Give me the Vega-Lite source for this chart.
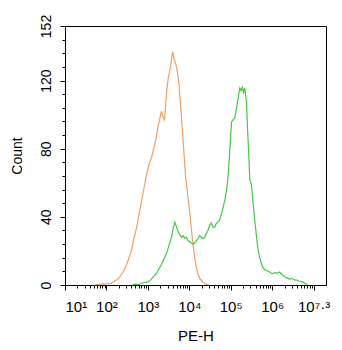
{
  "$schema": "https://vega.github.io/schema/vega-lite/v6.json",
  "autosize": "none",
  "width": 261,
  "height": 259,
  "padding": {"left": 65, "top": 26, "right": 16, "bottom": 65},
  "background": "white",
  "config": {
    "view": {"stroke": "black", "strokeWidth": 1},
    "axis": {"grid": false, "domainColor": "black", "tickColor": "black", "labelColor": "black", "titleColor": "black", "labelFont": "Liberation Sans", "titleFont": "Liberation Sans", "titleFontWeight": "normal", "labelOverlap": false}
  },
  "data": {"values": [
    {"e":1.70,"c":0,"s":"ctrl"},{"e":1.78,"c":0.4,"s":"ctrl"},{"e":1.85,"c":0.2,"s":"ctrl"},{"e":1.92,"c":0.8,"s":"ctrl"},{"e":1.98,"c":0.5,"s":"ctrl"},{"e":2.05,"c":1.0,"s":"ctrl"},{"e":2.10,"c":0.8,"s":"ctrl"},{"e":2.18,"c":2.0,"s":"ctrl"},{"e":2.25,"c":3.0,"s":"ctrl"},{"e":2.32,"c":4.7,"s":"ctrl"},{"e":2.40,"c":7.5,"s":"ctrl"},{"e":2.47,"c":11,"s":"ctrl"},{"e":2.53,"c":15,"s":"ctrl"},{"e":2.60,"c":20,"s":"ctrl"},{"e":2.66,"c":27,"s":"ctrl"},{"e":2.73,"c":34,"s":"ctrl"},{"e":2.80,"c":43,"s":"ctrl"},{"e":2.87,"c":52,"s":"ctrl"},{"e":2.93,"c":60,"s":"ctrl"},{"e":2.98,"c":66,"s":"ctrl"},{"e":3.03,"c":71,"s":"ctrl"},{"e":3.09,"c":75,"s":"ctrl"},{"e":3.14,"c":80,"s":"ctrl"},{"e":3.19,"c":85,"s":"ctrl"},{"e":3.24,"c":92,"s":"ctrl"},{"e":3.29,"c":98,"s":"ctrl"},{"e":3.33,"c":102,"s":"ctrl"},{"e":3.36,"c":99,"s":"ctrl"},{"e":3.40,"c":97,"s":"ctrl"},{"e":3.43,"c":106,"s":"ctrl"},{"e":3.46,"c":115,"s":"ctrl"},{"e":3.49,"c":121,"s":"ctrl"},{"e":3.53,"c":126,"s":"ctrl"},{"e":3.57,"c":132,"s":"ctrl"},{"e":3.60,"c":137,"s":"ctrl"},{"e":3.63,"c":133,"s":"ctrl"},{"e":3.67,"c":130,"s":"ctrl"},{"e":3.71,"c":126,"s":"ctrl"},{"e":3.75,"c":118,"s":"ctrl"},{"e":3.79,"c":105,"s":"ctrl"},{"e":3.83,"c":92,"s":"ctrl"},{"e":3.87,"c":78,"s":"ctrl"},{"e":3.91,"c":64,"s":"ctrl"},{"e":3.95,"c":55,"s":"ctrl"},{"e":3.99,"c":47,"s":"ctrl"},{"e":4.03,"c":38,"s":"ctrl"},{"e":4.07,"c":28,"s":"ctrl"},{"e":4.11,"c":20,"s":"ctrl"},{"e":4.15,"c":13,"s":"ctrl"},{"e":4.20,"c":7,"s":"ctrl"},{"e":4.26,"c":3.5,"s":"ctrl"},{"e":4.33,"c":1.8,"s":"ctrl"},{"e":4.40,"c":0.6,"s":"ctrl"},{"e":4.48,"c":0,"s":"ctrl"},
    {"e":2.62,"c":0,"s":"pe"},{"e":2.70,"c":0.5,"s":"pe"},{"e":2.78,"c":0.3,"s":"pe"},{"e":2.85,"c":1.0,"s":"pe"},{"e":2.92,"c":1.5,"s":"pe"},{"e":3.00,"c":1.8,"s":"pe"},{"e":3.07,"c":3,"s":"pe"},{"e":3.14,"c":5,"s":"pe"},{"e":3.21,"c":7,"s":"pe"},{"e":3.28,"c":10,"s":"pe"},{"e":3.35,"c":13,"s":"pe"},{"e":3.41,"c":16.4,"s":"pe"},{"e":3.47,"c":20,"s":"pe"},{"e":3.52,"c":24,"s":"pe"},{"e":3.57,"c":28,"s":"pe"},{"e":3.61,"c":33,"s":"pe"},{"e":3.65,"c":37,"s":"pe"},{"e":3.68,"c":35,"s":"pe"},{"e":3.72,"c":32,"s":"pe"},{"e":3.76,"c":30,"s":"pe"},{"e":3.81,"c":28,"s":"pe"},{"e":3.85,"c":29,"s":"pe"},{"e":3.89,"c":27.5,"s":"pe"},{"e":3.93,"c":28,"s":"pe"},{"e":3.97,"c":26,"s":"pe"},{"e":4.01,"c":25.5,"s":"pe"},{"e":4.05,"c":24.6,"s":"pe"},{"e":4.09,"c":24,"s":"pe"},{"e":4.13,"c":24.6,"s":"pe"},{"e":4.17,"c":26,"s":"pe"},{"e":4.21,"c":27,"s":"pe"},{"e":4.25,"c":29,"s":"pe"},{"e":4.29,"c":28,"s":"pe"},{"e":4.33,"c":27,"s":"pe"},{"e":4.37,"c":28,"s":"pe"},{"e":4.41,"c":30,"s":"pe"},{"e":4.45,"c":32,"s":"pe"},{"e":4.49,"c":35,"s":"pe"},{"e":4.53,"c":36.4,"s":"pe"},{"e":4.57,"c":34,"s":"pe"},{"e":4.61,"c":34,"s":"pe"},{"e":4.65,"c":36,"s":"pe"},{"e":4.69,"c":37,"s":"pe"},{"e":4.73,"c":38,"s":"pe"},{"e":4.78,"c":42,"s":"pe"},{"e":4.82,"c":46,"s":"pe"},{"e":4.86,"c":50,"s":"pe"},{"e":4.90,"c":56,"s":"pe"},{"e":4.93,"c":62,"s":"pe"},{"e":4.96,"c":72,"s":"pe"},{"e":4.99,"c":84,"s":"pe"},{"e":5.02,"c":95.7,"s":"pe"},{"e":5.06,"c":97,"s":"pe"},{"e":5.10,"c":98,"s":"pe"},{"e":5.14,"c":104,"s":"pe"},{"e":5.18,"c":110,"s":"pe"},{"e":5.22,"c":115.6,"s":"pe"},{"e":5.25,"c":114,"s":"pe"},{"e":5.28,"c":116,"s":"pe"},{"e":5.31,"c":113,"s":"pe"},{"e":5.34,"c":115.6,"s":"pe"},{"e":5.36,"c":111,"s":"pe"},{"e":5.38,"c":107,"s":"pe"},{"e":5.41,"c":90,"s":"pe"},{"e":5.44,"c":74,"s":"pe"},{"e":5.46,"c":62,"s":"pe"},{"e":5.50,"c":58.7,"s":"pe"},{"e":5.54,"c":48,"s":"pe"},{"e":5.58,"c":38,"s":"pe"},{"e":5.62,"c":29,"s":"pe"},{"e":5.65,"c":22.3,"s":"pe"},{"e":5.70,"c":16,"s":"pe"},{"e":5.74,"c":12.5,"s":"pe"},{"e":5.77,"c":10.6,"s":"pe"},{"e":5.82,"c":9,"s":"pe"},{"e":5.87,"c":8.5,"s":"pe"},{"e":5.94,"c":7.6,"s":"pe"},{"e":6.00,"c":6.5,"s":"pe"},{"e":6.06,"c":7.2,"s":"pe"},{"e":6.12,"c":7,"s":"pe"},{"e":6.18,"c":7.6,"s":"pe"},{"e":6.24,"c":6,"s":"pe"},{"e":6.30,"c":4.7,"s":"pe"},{"e":6.36,"c":4.2,"s":"pe"},{"e":6.42,"c":3.5,"s":"pe"},{"e":6.48,"c":3.8,"s":"pe"},{"e":6.54,"c":3.0,"s":"pe"},{"e":6.60,"c":2.9,"s":"pe"},{"e":6.66,"c":2.2,"s":"pe"},{"e":6.73,"c":1.8,"s":"pe"},{"e":6.80,"c":0.8,"s":"pe"},{"e":6.86,"c":0,"s":"pe"}
  ]},
  "mark": {"type": "line", "strokeWidth": 1.2, "interpolate": "linear"},
  "encoding": {
    "x": {
      "field": "e", "type": "quantitative",
      "scale": {"domain": [1, 7.3], "nice": false, "zero": false},
      "axis": {
        "title": "PE-H", "titleFontSize": 15, "titlePadding": 14,
        "labelFontSize": 15, "labelPadding": 9,
        "values": [1,1.30103,1.47712,1.60206,1.69897,1.77815,1.8451,1.90309,1.95424,2,2.30103,2.47712,2.60206,2.69897,2.77815,2.8451,2.90309,2.95424,3,3.30103,3.47712,3.60206,3.69897,3.77815,3.8451,3.90309,3.95424,4,4.30103,4.47712,4.60206,4.69897,4.77815,4.8451,4.90309,4.95424,5,5.30103,5.47712,5.60206,5.69897,5.77815,5.8451,5.90309,5.95424,6,6.30103,6.47712,6.60206,6.69897,6.77815,6.8451,6.90309,6.95424,7],
        "labelExpr": "abs(datum.value - 7) < 0.001 ? '10⁷·³' : (abs(datum.value - round(datum.value)) < 0.001 ? '10' + ['⁰','¹','²','³','⁴','⁵','⁶'][round(datum.value)] : '')",
        "tickSize": {"condition": {"test": "abs(datum.value - round(datum.value)) < 0.001", "value": 5}, "value": 3}
      }
    },
    "y": {
      "field": "c", "type": "quantitative",
      "scale": {"domain": [0, 152], "nice": false},
      "axis": {
        "title": "Count", "titleFontSize": 14, "titlePadding": 15,
        "labelFontSize": 14, "labelAngle": -90, "labelPadding": 7,
        "values": [0,8,16,24,32,40,48,56,64,72,80,88,96,104,112,120,128,136,144,152],
        "labelExpr": "(datum.value % 40 == 0 || datum.value == 152) ? datum.label : ''",
        "tickSize": {"condition": {"test": "datum.value % 40 == 0 || datum.value == 152", "value": 5}, "value": 3}
      }
    },
    "color": {
      "field": "s", "type": "nominal",
      "scale": {"domain": ["ctrl", "pe"], "range": ["#F0A060", "#40CC40"]},
      "legend": null
    }
  }
}
